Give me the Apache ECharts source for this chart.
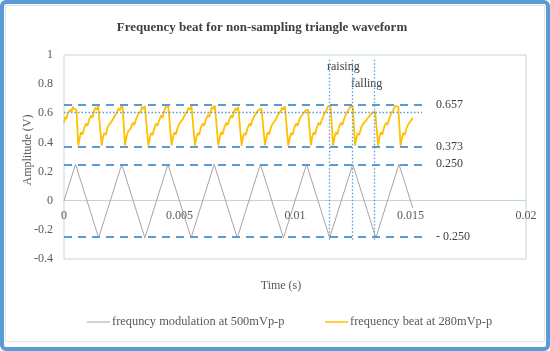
<!DOCTYPE html>
<html>
<head>
<meta charset="utf-8">
<script src="https://cdn.jsdelivr.net/npm/echarts@6/dist/echarts.min.js"></script>
<style>
html,body{margin:0;padding:0;background:#fff;}
#chart{width:550px;height:351px;}
</style>
</head>
<body>
<div id="chart"></div>
<script>
// 500 mVp-p triangle modulation: vertex times (ms) and amplitudes (V)
const modTimeMs = [0, 0.5, 1.5, 2.5, 3.5, 4.5, 5.5, 6.5, 7.5, 8.5, 9.5, 10.5, 11.5, 12.5, 13.5, 14.5, 15.1];
const modAmp    = [0, 0.25, -0.255, 0.25, -0.255, 0.25, -0.255, 0.25, -0.255, 0.25, -0.255, 0.25, -0.255, 0.25, -0.255, 0.25, -0.05];

// 280 mVp-p frequency beat samples: [time (ms), amplitude (V)]
const beatPoints = [
  [0,0.535],[0.05,0.575],[0.1,0.56],[0.16,0.6],[0.22,0.595],[0.28,0.625],[0.33,0.61],[0.38,0.645],[0.44,0.63],[0.5,0.64],[0.54,0.625],
  [0.62,0.378],[0.68,0.43],[0.74,0.47],[0.8,0.455],[0.88,0.5],[0.96,0.53],[1.02,0.515],[1.1,0.56],[1.18,0.585],[1.24,0.57],[1.3,0.615],[1.36,0.64],[1.42,0.625],[1.48,0.65],[1.53,0.64],
  [1.63,0.378],[1.69,0.44],[1.75,0.465],[1.81,0.45],[1.89,0.505],[1.97,0.525],[2.03,0.52],[2.11,0.555],[2.19,0.58],[2.25,0.575],[2.31,0.61],[2.37,0.635],[2.43,0.62],[2.49,0.655],[2.54,0.64],
  [2.64,0.38],[2.7,0.435],[2.76,0.47],[2.82,0.46],[2.9,0.5],[2.98,0.535],[3.04,0.52],[3.12,0.56],[3.2,0.59],[3.26,0.58],[3.32,0.615],[3.38,0.645],[3.44,0.63],[3.5,0.65],[3.55,0.645],
  [3.65,0.378],[3.71,0.43],[3.77,0.465],[3.83,0.45],[3.91,0.495],[3.99,0.53],[4.05,0.515],[4.13,0.555],[4.21,0.585],[4.27,0.57],[4.33,0.61],[4.39,0.64],[4.45,0.63],[4.51,0.655],[4.56,0.645],
  [4.66,0.38],[4.72,0.44],[4.78,0.47],[4.84,0.455],[4.92,0.5],[5.0,0.53],[5.06,0.52],[5.14,0.56],[5.22,0.585],[5.28,0.575],[5.34,0.615],[5.4,0.64],[5.46,0.625],[5.52,0.65],[5.57,0.64],
  [5.67,0.378],[5.73,0.435],[5.79,0.465],[5.85,0.45],[5.93,0.505],[6.01,0.53],[6.07,0.515],[6.15,0.56],[6.23,0.59],[6.29,0.575],[6.35,0.615],[6.41,0.645],[6.47,0.63],[6.53,0.655],[6.58,0.645],
  [6.68,0.38],[6.74,0.43],[6.8,0.47],[6.86,0.455],[6.94,0.5],[7.02,0.535],[7.08,0.52],[7.16,0.555],[7.24,0.585],[7.3,0.57],[7.36,0.61],[7.42,0.635],[7.48,0.62],[7.54,0.645],[7.59,0.64],
  [7.69,0.378],[7.75,0.44],[7.81,0.465],[7.87,0.45],[7.95,0.5],[8.03,0.53],[8.09,0.515],[8.17,0.56],[8.25,0.585],[8.31,0.575],[8.37,0.61],[8.43,0.625],[8.49,0.615],[8.55,0.63],[8.6,0.625],
  [8.7,0.38],[8.76,0.435],[8.82,0.47],[8.88,0.455],[8.96,0.505],[9.04,0.53],[9.1,0.52],[9.18,0.56],[9.26,0.59],[9.32,0.58],[9.38,0.615],[9.44,0.64],[9.5,0.625],[9.56,0.65],[9.61,0.645],
  [9.71,0.378],[9.77,0.43],[9.83,0.465],[9.89,0.45],[9.97,0.5],[10.05,0.53],[10.11,0.515],[10.19,0.555],[10.27,0.58],[10.33,0.57],[10.39,0.605],[10.45,0.62],[10.51,0.61],[10.56,0.625],[10.6,0.62],
  [10.69,0.38],[10.75,0.44],[10.81,0.47],[10.87,0.455],[10.95,0.505],[11.03,0.535],[11.09,0.52],[11.17,0.56],[11.25,0.59],[11.31,0.58],[11.37,0.625],[11.43,0.65],[11.48,0.657],[11.54,0.645],
  [11.65,0.378],[11.71,0.435],[11.77,0.47],[11.83,0.455],[11.91,0.505],[11.99,0.535],[12.05,0.52],[12.13,0.565],[12.21,0.595],[12.27,0.585],[12.33,0.625],[12.39,0.645],[12.45,0.657],[12.5,0.645],
  [12.6,0.38],[12.66,0.43],[12.72,0.465],[12.78,0.45],[12.86,0.5],[12.94,0.525],[13.0,0.515],[13.08,0.55],[13.16,0.57],[13.22,0.565],[13.28,0.59],[13.34,0.605],[13.4,0.6],[13.47,0.61],[13.5,0.6],
  [13.6,0.378],[13.66,0.44],[13.72,0.47],[13.78,0.455],[13.86,0.505],[13.94,0.535],[14.0,0.52],[14.08,0.565],[14.16,0.595],[14.22,0.585],[14.28,0.63],[14.34,0.65],[14.4,0.657],[14.47,0.645],
  [14.57,0.378],[14.63,0.43],[14.69,0.465],[14.75,0.45],[14.83,0.5],[14.91,0.525],[14.97,0.52],[15.04,0.555],[15.1,0.57]
];

// Reference levels marked with dashed lines
const refLevels = [0.657, 0.373, 0.250, -0.250];
const refLabels = ['0.657', '0.373', '0.250', '- 0.250'];
const refEndMs = 15.5;
// Dotted guide level and raising/falling boundaries
const guideLevel = 0.607;
const boundaryTimesMs = [11.5, 12.47, 13.45];
const boundarySpan = [0.967, -0.277];

const seriesNames = ['frequncy modulation at 500mVp-p', 'frequency beat at 280mVp-p'];

const SERIF = '"Liberation Serif","Times New Roman",serif';
const TXT = '#595959';
const DARK = '#404040';
const BLUE = '#5b9bd5';

// plot box geometry
const GRID = { left: 64, right: 24, top: 55, bottom: 92 };
const Y_MIN = -0.4, Y_MAX = 1;
const plotH = 351 - GRID.top - GRID.bottom;
// shift the time axis up so it sits on the zero level
const zeroOffset = -plotH * (0 - Y_MIN) / (Y_MAX - Y_MIN);

const toSec = ms => ms / 1000;

const modData = modTimeMs.map((t, i) => [toSec(t), modAmp[i]]);
const beatData = beatPoints.map(p => [toSec(p[0]), p[1]]);

const dashedRefs = refLevels.map((v, i) => [
  { name: refLabels[i], coord: [0, v] },
  { coord: [toSec(refEndMs), v] }
]);

const dottedGuides = [
  [{ coord: [0, guideLevel] }, { coord: [toSec(refEndMs), guideLevel] }]
].concat(boundaryTimesMs.map(t => [
  { coord: [toSec(t), boundarySpan[0]] },
  { coord: [toSec(t), boundarySpan[1]] }
]));

const chart = echarts.init(document.getElementById('chart'), null, { renderer: 'canvas' });

chart.setOption({
  animation: false,
  backgroundColor: '#ffffff',
  grid: Object.assign({
    show: true, borderColor: '#c3d6df', borderWidth: 1, backgroundColor: 'transparent'
  }, GRID),
  xAxis: {
    type: 'value', min: 0, max: 0.02, interval: 0.005,
    position: 'bottom', offset: zeroOffset,
    axisLine: { show: true, onZero: false, lineStyle: { color: '#c3d3dc', width: 1 } },
    axisTick: { show: false },
    splitLine: { show: false },
    axisLabel: { color: TXT, fontFamily: SERIF, fontSize: 12, margin: 9 }
  },
  yAxis: {
    type: 'value', min: Y_MIN, max: Y_MAX, interval: 0.2,
    axisLine: { show: false },
    axisTick: { show: false },
    splitLine: { show: false },
    axisLabel: { color: TXT, fontFamily: SERIF, fontSize: 12, margin: 11 }
  },
  series: [
    {
      name: seriesNames[0], type: 'line', data: modData,
      showSymbol: false, silent: true,
      lineStyle: { color: '#a5a5a5', width: 1 },
      markLine: {
        silent: true, symbol: ['none', 'none'],
        lineStyle: { color: BLUE, width: 1.8, type: [8, 6] },
        label: {
          show: true, position: 'end', distance: 14,
          formatter: p => p.name,
          color: DARK, fontFamily: SERIF, fontSize: 12
        },
        data: dashedRefs
      },
      z: 2
    },
    {
      name: seriesNames[1], type: 'line', data: beatData,
      showSymbol: false, silent: true,
      lineStyle: { color: '#ffc000', width: 1.8 },
      markLine: {
        silent: true, symbol: ['none', 'none'],
        lineStyle: { color: BLUE, width: 1.3, type: [1.5, 2] },
        label: { show: false },
        data: dottedGuides
      },
      z: 3
    }
  ],
  graphic: [
    // outer frame
    { type: 'rect', silent: true, shape: { x: 2, y: 2, width: 546, height: 347, r: 4 },
      style: { fill: 'none', stroke: BLUE, lineWidth: 4 } },
    { type: 'rect', silent: true, shape: { x: 5.5, y: 5.5, width: 539, height: 336 },
      style: { fill: 'none', stroke: '#e3e3e3', lineWidth: 1 } },
    // title
    { type: 'text', silent: true, x: 262, y: 28,
      style: { text: 'Frequency beat for non-sampling triangle waveform', fill: DARK,
        font: 'bold 13px ' + SERIF, textAlign: 'center', textVerticalAlign: 'middle' } },
    // axis names
    { type: 'text', silent: true, x: 28, y: 150, rotation: Math.PI / 2,
      style: { text: 'Amplitude (V)', fill: TXT, font: '12px ' + SERIF,
        textAlign: 'center', textVerticalAlign: 'middle' } },
    { type: 'text', silent: true, x: 281, y: 286,
      style: { text: 'Time (s)', fill: TXT, font: '12px ' + SERIF,
        textAlign: 'center', textVerticalAlign: 'middle' } },
    // annotations
    { type: 'text', silent: true, x: 327, y: 67,
      style: { text: 'raising', fill: DARK, font: '12px ' + SERIF, textVerticalAlign: 'middle' } },
    { type: 'text', silent: true, x: 351, y: 84,
      style: { text: 'falling', fill: DARK, font: '12px ' + SERIF, textVerticalAlign: 'middle' } },
    // legend
    { type: 'line', silent: true, shape: { x1: 87, y1: 322, x2: 110, y2: 322 },
      style: { stroke: '#a5a5a5', lineWidth: 1 } },
    { type: 'text', silent: true, x: 112, y: 322,
      style: { text: seriesNames[0], fill: TXT, font: '12.4px ' + SERIF, textVerticalAlign: 'middle' } },
    { type: 'line', silent: true, shape: { x1: 325, y1: 322, x2: 348, y2: 322 },
      style: { stroke: '#ffc000', lineWidth: 1.5 } },
    { type: 'text', silent: true, x: 350, y: 322,
      style: { text: seriesNames[1], fill: TXT, font: '12.4px ' + SERIF, textVerticalAlign: 'middle' } }
  ]
});
</script>
</body>
</html>
